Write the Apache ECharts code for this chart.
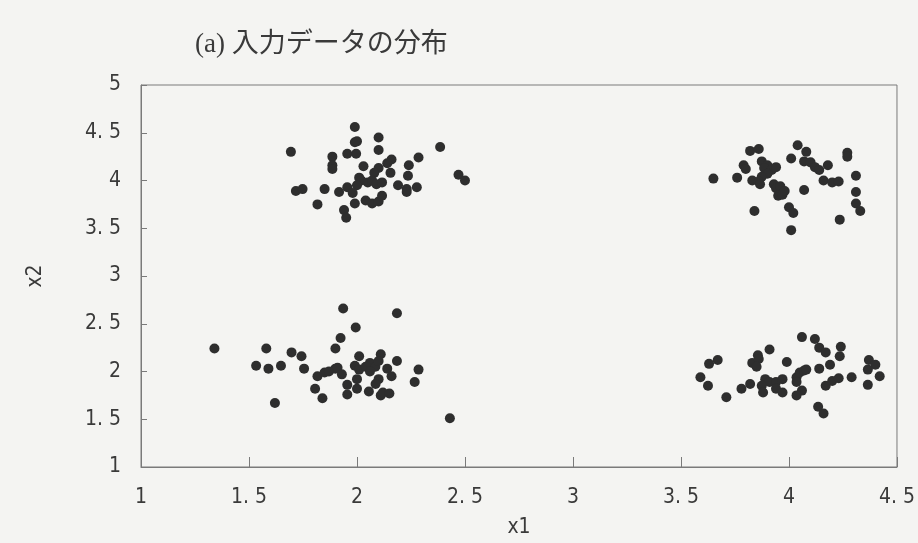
<!DOCTYPE html>
<html><head><meta charset="utf-8">
<script src="https://cdn.jsdelivr.net/npm/echarts@6/dist/echarts.min.js"></script>
<style>html,body{margin:0;padding:0;background:#f4f4f2;}#c{width:918px;height:543px;}</style>
</head><body><div id="c"></div>
<script>
const titleText = "(a) 入力データの分布";
const xName = "x1";
const yName = "x2";
const xTicks = [1, 1.5, 2, 2.5, 3, 3.5, 4, 4.5];
const yTicks = [1, 1.5, 2, 2.5, 3, 3.5, 4, 4.5, 5];

const clusterTopLeftX = [1.99,1.99,2.00,2.10,2.10,1.955,1.996,1.694,2.385,1.886,1.886,1.886,2.03,2.16,2.14,2.10,2.155,2.24,2.285,2.236,2.08,2.01,2.02,2.05,2.07,2.09,2.116,2.00,2.47,2.50,1.717,1.748,1.85,1.917,1.955,1.98,2.19,2.23,2.277,2.23,1.817,1.99,2.04,2.07,2.10,2.116,1.94,1.95];
const clusterTopLeftY = [4.56,4.40,4.41,4.45,4.32,4.28,4.28,4.30,4.35,4.25,4.16,4.12,4.15,4.22,4.18,4.13,4.08,4.16,4.24,4.05,4.08,4.03,4.00,3.98,4.00,3.96,3.98,3.95,4.06,4.00,3.89,3.91,3.91,3.88,3.93,3.87,3.95,3.91,3.93,3.88,3.75,3.76,3.79,3.76,3.78,3.84,3.69,3.61];

const clusterTopRightX = [3.65,3.76,3.82,3.86,3.79,3.80,3.83,3.874,3.90,3.885,3.92,3.94,3.90,3.874,3.86,3.866,3.93,3.94,3.96,3.95,3.97,3.98,4.04,4.08,4.01,4.07,4.10,4.12,4.14,4.18,4.27,4.27,4.16,4.20,4.23,4.07,4.31,4.31,4.31,4.33,3.84,4.00,4.02,4.235,4.01];
const clusterTopRightY = [4.02,4.03,4.31,4.33,4.16,4.12,4.00,4.20,4.16,4.13,4.11,4.14,4.07,4.04,3.99,3.96,3.96,3.92,3.94,3.84,3.85,3.89,4.37,4.30,4.23,4.20,4.19,4.14,4.11,4.16,4.29,4.25,4.00,3.98,3.99,3.90,4.05,3.88,3.76,3.68,3.68,3.72,3.66,3.59,3.48];

const clusterBottomLeftX = [1.34,1.936,2.185,1.994,1.924,1.90,1.58,1.533,1.59,1.648,1.697,1.743,1.755,1.817,1.85,1.87,1.90,1.91,1.93,2.01,1.99,2.01,2.04,2.06,2.085,2.11,2.10,2.06,2.14,2.185,2.285,2.267,2.16,2.00,2.10,2.086,1.806,1.84,1.955,1.955,2.00,2.055,2.11,2.12,2.15,1.62,2.43];
const clusterBottomLeftY = [2.24,2.66,2.61,2.46,2.35,2.24,2.24,2.06,2.03,2.06,2.20,2.16,2.03,1.95,1.99,2.00,2.03,2.04,1.97,2.16,2.06,2.02,2.05,2.09,2.05,2.18,2.11,2.00,2.03,2.11,2.02,1.89,1.95,1.92,1.92,1.87,1.82,1.72,1.86,1.76,1.82,1.79,1.75,1.78,1.77,1.67,1.51];

const clusterBottomRightX = [3.63,3.67,3.59,3.625,3.71,3.78,3.82,3.83,3.856,3.86,3.85,3.91,3.89,3.91,3.874,3.88,3.94,3.97,3.94,3.97,3.99,4.035,4.05,4.07,4.08,4.035,4.06,4.035,4.06,4.12,4.14,4.17,4.14,4.19,4.24,4.235,4.17,4.20,4.23,4.29,4.135,4.16,4.37,4.40,4.365,4.42,4.365];
const clusterBottomRightY = [2.08,2.12,1.94,1.85,1.73,1.82,1.87,2.09,2.17,2.13,2.05,2.23,1.92,1.89,1.85,1.78,1.89,1.92,1.82,1.78,2.10,1.94,1.99,2.01,2.02,1.89,1.80,1.75,2.36,2.34,2.25,2.20,2.03,2.07,2.26,2.16,1.85,1.90,1.93,1.94,1.63,1.56,2.12,2.07,2.02,1.95,1.86];

function pairs(xs, ys){ return xs.map((x,i)=>[x, ys[i]]); }
const points = [].concat(
  pairs(clusterTopLeftX, clusterTopLeftY),
  pairs(clusterTopRightX, clusterTopRightY),
  pairs(clusterBottomLeftX, clusterBottomLeftY),
  pairs(clusterBottomRightX, clusterBottomRightY)
);

const fmt = v => String(v).replace('.', '. ');
const labelFont = {fontFamily:'"DejaVu Sans Condensed","Liberation Sans Narrow","Roboto Condensed",sans-serif', fontSize:21, color:'#3a3a3a'};

const chart = echarts.init(document.getElementById('c'), null, {renderer:'canvas'});
chart.setOption({
  backgroundColor:'#f4f4f2',
  animation:false,
  title:{text:titleText, left:190, top:26, textStyle:{fontFamily:'"Liberation Serif","Noto Sans CJK JP",serif', fontWeight:'normal', fontSize:27, color:'#3a3a3a'}},
  grid:{left:141, right:18, top:85, bottom:69, show:true, borderColor:'#7a7a7a', borderWidth:1, backgroundColor:'transparent'},
  xAxis:{type:'value', min:xTicks[0], max:xTicks[xTicks.length-1], interval:0.5,
    name:xName, nameLocation:'middle', nameGap:50, nameTextStyle:labelFont,
    axisLine:{show:true, lineStyle:{color:'#7a7a7a'}},
    axisTick:{show:true, inside:true, length:10, lineStyle:{color:'#7a7a7a'}},
    axisLabel:{margin:20, formatter:fmt, ...labelFont},
    splitLine:{show:false}},
  yAxis:{type:'value', min:yTicks[0], max:yTicks[yTicks.length-1], interval:0.5,
    name:yName, nameLocation:'middle', nameGap:95, nameRotate:90, nameTextStyle:labelFont,
    axisLine:{show:true, lineStyle:{color:'#7a7a7a'}},
    axisTick:{show:true, inside:true, length:6, lineStyle:{color:'#7a7a7a'}},
    axisLabel:{margin:20, formatter:fmt, ...labelFont},
    splitLine:{show:false}},
  series:[{type:'scatter', data:points, symbolSize:10, itemStyle:{color:'#2e2e2e', opacity:1}}]
});
</script></body></html>
